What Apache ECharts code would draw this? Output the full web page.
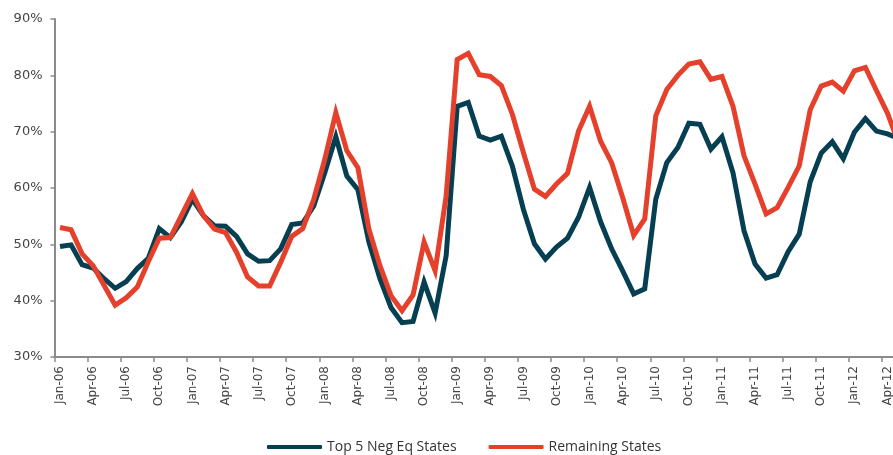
<!DOCTYPE html>
<html>
<head>
<meta charset="utf-8">
<script src="https://cdn.jsdelivr.net/npm/echarts@6/dist/echarts.min.js"></script>
<style>
  html, body { margin: 0; padding: 0; background: #fff; overflow: hidden; }
  /* the plot runs past the right edge, so the last month is partly cut off */
  #chart { width: 904px; height: 455px; }
</style>
</head>
<body>
<div id="chart"></div>
<script>
// Monthly share, Jan-06 through May-12
const months = [
  'Jan-06','Feb-06','Mar-06','Apr-06','May-06','Jun-06','Jul-06','Aug-06','Sep-06','Oct-06','Nov-06','Dec-06',
  'Jan-07','Feb-07','Mar-07','Apr-07','May-07','Jun-07','Jul-07','Aug-07','Sep-07','Oct-07','Nov-07','Dec-07',
  'Jan-08','Feb-08','Mar-08','Apr-08','May-08','Jun-08','Jul-08','Aug-08','Sep-08','Oct-08','Nov-08','Dec-08',
  'Jan-09','Feb-09','Mar-09','Apr-09','May-09','Jun-09','Jul-09','Aug-09','Sep-09','Oct-09','Nov-09','Dec-09',
  'Jan-10','Feb-10','Mar-10','Apr-10','May-10','Jun-10','Jul-10','Aug-10','Sep-10','Oct-10','Nov-10','Dec-10',
  'Jan-11','Feb-11','Mar-11','Apr-11','May-11','Jun-11','Jul-11','Aug-11','Sep-11','Oct-11','Nov-11','Dec-11',
  'Jan-12','Feb-12','Mar-12','Apr-12','May-12'
];

const top5NegEq = [
  49.6, 49.9, 46.4, 45.8, 43.9, 42.2, 43.4, 45.7, 47.5, 52.8, 51.2, 54.0,
  58.0, 55.1, 53.3, 53.2, 51.4, 48.3, 47.0, 47.1, 49.2, 53.5, 53.8, 56.8,
  62.7, 69.1, 62.1, 59.7, 50.4, 43.9, 38.8, 36.1, 36.3, 43.3, 37.8, 48.0,
  74.5, 75.2, 69.2, 68.5, 69.2, 63.9, 56.2, 50.1, 47.4, 49.5, 51.1, 54.8,
  60.1, 54.0, 49.2, 45.3, 41.2, 42.1, 58.0, 64.5, 67.2, 71.5, 71.3, 66.9,
  69.1, 62.7, 52.4, 46.5, 44.0, 44.6, 48.7, 51.8, 61.1, 66.2, 68.2, 65.2,
  69.9, 72.3, 70.1, 69.6, 68.8
];

const remaining = [
  53.0, 52.6, 48.3, 46.2, 42.7, 39.2, 40.5, 42.4, 46.9, 51.1, 51.2, 55.1,
  59.0, 55.1, 52.7, 52.1, 48.6, 44.2, 42.6, 42.6, 46.8, 51.4, 52.8, 58.0,
  65.1, 73.4, 66.6, 63.6, 52.7, 46.2, 40.9, 38.2, 41.0, 50.4, 45.3, 58.6,
  82.8, 83.9, 80.1, 79.8, 78.2, 73.1, 66.3, 59.8, 58.5, 60.7, 62.6, 70.1,
  74.5, 68.3, 64.5, 58.3, 51.6, 54.5, 72.8, 77.5, 80.0, 82.0, 82.4, 79.3,
  79.8, 74.5, 65.7, 60.7, 55.4, 56.5, 60.1, 63.9, 73.9, 78.1, 78.8, 77.2,
  80.8, 81.4, 77.3, 73.3, 68.0
];

const seriesNames = ['Top 5 Neg Eq States', 'Remaining States'];
const colors = ['#073f52', '#e5402b'];

const yTicks = { min: 30, max: 90, step: 10 };

const chart = echarts.init(document.getElementById('chart'), null, { renderer: 'canvas' });

const axisGray = '#8a8a8a';
const labelFont = '"DejaVu Sans", sans-serif';

chart.setOption({
  animation: false,
  color: colors,
  grid: { left: 54.5, right: 0, top: 19, bottom: 98, containLabel: false },
  legend: {
    left: 267,
    top: 440,
    padding: 0,
    itemWidth: 55,
    itemHeight: 4,
    itemGap: 32,
    icon: 'roundRect',
    textStyle: { fontFamily: '"Open Sans", sans-serif', fontSize: 14, color: '#333' },
    data: seriesNames
  },
  xAxis: {
    type: 'category',
    data: months,
    boundaryGap: true,
    axisLine: { lineStyle: { color: axisGray, width: 2 } },
    axisTick: { show: true, interval: 2, length: 5, lineStyle: { color: axisGray, width: 1.5 } },
    axisLabel: {
      interval: 2,
      rotate: 90,
      margin: 9,
      fontFamily: labelFont,
      fontSize: 12,
      color: '#444'
    },
    splitLine: { show: false }
  },
  yAxis: {
    type: 'value',
    min: yTicks.min,
    max: yTicks.max,
    interval: yTicks.step,
    axisLine: { show: true, lineStyle: { color: axisGray, width: 2 } },
    axisTick: { show: true, length: 4, lineStyle: { color: axisGray, width: 1.5 } },
    axisLabel: {
      formatter: '{value}%',
      margin: 12,
      fontFamily: labelFont,
      fontSize: 13,
      color: '#444'
    },
    splitLine: { show: false }
  },
  series: [
    {
      name: seriesNames[0],
      type: 'line',
      data: top5NegEq,
      showSymbol: false,
      symbol: 'none',
      lineStyle: { width: 5, color: colors[0], join: 'miter', cap: 'butt' },
      z: 2
    },
    {
      name: seriesNames[1],
      type: 'line',
      data: remaining,
      showSymbol: false,
      symbol: 'none',
      lineStyle: { width: 5, color: colors[1], join: 'miter', cap: 'butt' },
      z: 3
    }
  ]
});
</script>
</body>
</html>
